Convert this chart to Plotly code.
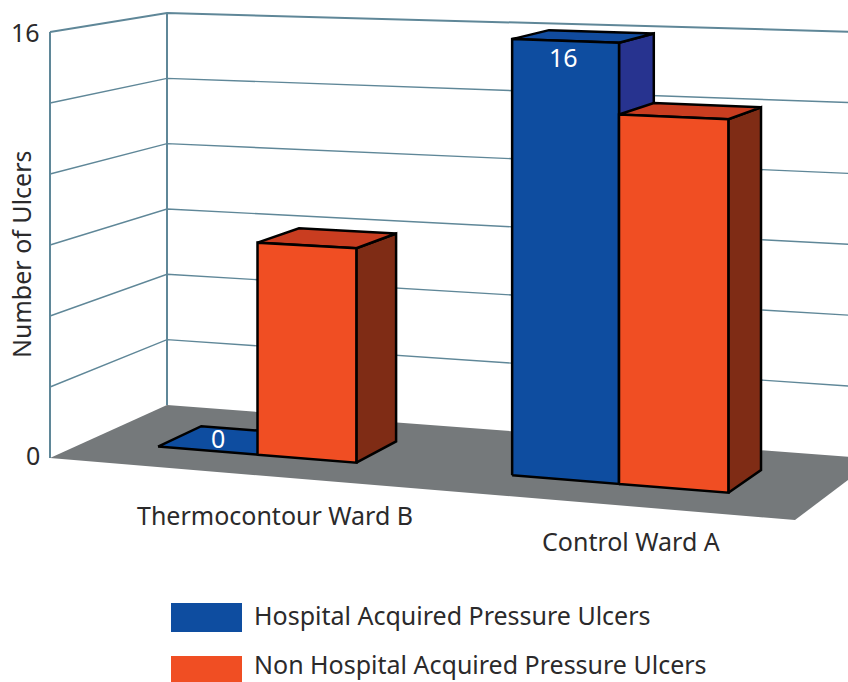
import numpy as np
import plotly.graph_objects as go

# ---- data ----
categories = ["Thermocontour Ward B", "Control Ward A"]
series_names = ["Hospital Acquired Pressure Ulcers", "Non Hospital Acquired Pressure Ulcers"]
hospital = [0, 16]
non_hospital = [8, 13.4]
bar_labels = ["0", "16"]
y_tick_labels = ["0", "16"]
y_title = "Number of Ulcers"

# ---- look of the chart ----
Y_MAX = 16
GRID_STEPS = 6
W, H = 848, 682
FONT = "Noto Sans"
FS = 25
TEXT = "#2b2a2b"
GRID = "#5f8798"
FLOOR = "#75797b"
BLUE = dict(front="#0e4da0", side="#27338f", top="#114b9e")
ORANGE = dict(front="#f04e23", side="#7f2c15", top="#c93d20")
GROUP_X = [(0.103, 0.246, 0.385), (0.598, 0.74, 0.882)]
LABEL_OFFSET = [(53, 43), (42, 38)]
D0, D1 = 0.31, 0.69

def homography(c):
    src = [(0, 0), (1, 0), (1, 1), (0, 1)]
    A, b = [], []
    for (x, y), (u, v) in zip(src, c):
        A.append([x, y, 1, 0, 0, 0, -u * x, -u * y]); b.append(u)
        A.append([0, 0, 0, x, y, 1, -v * x, -v * y]); b.append(v)
    return np.append(np.linalg.solve(np.array(A, float), np.array(b, float)), 1).reshape(3, 3)

HF = homography([(50, 458), (795, 520), (876, 459), (167, 405)])

def project(x, d, z):
    """3-D chart position (category axis, depth, value) to the picture plane."""
    p = HF @ np.array([x, d, 1.0])
    u, v = p[:2] / p[2]
    return u, v - (z / Y_MAX) * (426 + 34.6 * x - 34 * d)

fig = go.Figure()

def poly(points, fill=None, line=None, width=0):
    pts = [project(*p) for p in points]
    if fill:
        pts = pts + [pts[0]]
    fig.add_trace(go.Scatter(
        x=[p[0] for p in pts], y=[p[1] for p in pts],
        mode="lines", fill="toself" if fill else "none", fillcolor=fill,
        line=dict(color=line if line else "rgba(0,0,0,0)", width=width),
        hoverinfo="skip", showlegend=False))

# walls: gridlines
for i in range(1, GRID_STEPS):
    z = Y_MAX * i / GRID_STEPS
    poly([(0, 0, z), (0, 1, z), (1, 1, z)], line=GRID, width=1.4)
poly([(0, 0, Y_MAX), (0, 1, Y_MAX), (1, 1, Y_MAX)], line=GRID, width=2)
poly([(0, 0, 0), (0, 0, Y_MAX)], line=GRID, width=2)
poly([(0, 1, 0), (0, 1, Y_MAX)], line=GRID, width=2)

# floor
poly([(0, 0, 0), (1, 0, 0), (1, 1, 0), (0, 1, 0)], fill=FLOOR)

def bar(x0, x1, v, col):
    edge = dict(line="#000000", width=2.5)
    if v > 0:
        poly([(x1, D0, 0), (x1, D1, 0), (x1, D1, v), (x1, D0, v)], fill=col["side"], **edge)
        poly([(x0, D0, v), (x1, D0, v), (x1, D1, v), (x0, D1, v)], fill=col["top"], **edge)
        poly([(x0, D0, 0), (x1, D0, 0), (x1, D0, v), (x0, D0, v)], fill=col["front"], **edge)
    else:
        poly([(x0, D0, v), (x1, D0, v), (x1, D1, v), (x0, D1, v)], fill=col["front"], **edge)

for (xa, xb, xc), a, b in zip(GROUP_X, hospital, non_hospital):
    bar(xa, xb, a, BLUE)
    bar(xb, xc, b, ORANGE)

def text(x, y, s, size=FS, color=TEXT, xanchor="center", angle=0):
    fig.add_annotation(x=x, y=y, text=s, showarrow=False, xref="x", yref="y", xanchor=xanchor,
                       yanchor="middle", textangle=angle, font=dict(family=FONT, size=size, color=color))

# value labels on the bars
for (xa, xb, xc), a, lab in zip(GROUP_X, hospital, bar_labels):
    u = project((xa + xb) / 2, D0, a)[0]
    v = project((xa + xb) / 2, 0.5, 0)[1] - 2 if a == 0 else project((xa + xb) / 2, D0, a)[1] + 17
    text(u + (10 if a == 0 else -2), v - (0 if a == 0 else 1), lab, color="#ffffff")

# axis labels
for lab, z in zip(y_tick_labels, (0, Y_MAX)):
    u, v = project(0, 0, z)
    text(u - 8, v - (3 if z == 0 else 0), lab, xanchor="right")
text(21, 255, y_title, angle=-90)
for (xa, xb, xc), cat, (dx, dy) in zip(GROUP_X, categories, LABEL_OFFSET):
    u, v = project(xb, 0, 0)
    text(u + dx, v + dy, cat)

# legend
shapes = []
for name, col, y0, y1, yc in zip(series_names, (BLUE, ORANGE), (603, 656), (632, 685), (615, 664)):
    shapes.append(dict(type="rect", xref="x", yref="y", x0=171, x1=242, y0=y0, y1=y1,
                       fillcolor=col["front"], line_width=0))
    text(252, yc, name, xanchor="left")

fig.update_layout(
    width=W, height=H, margin=dict(l=0, r=0, t=0, b=0),
    paper_bgcolor="#ffffff", plot_bgcolor="#ffffff", showlegend=False, shapes=shapes,
    xaxis=dict(range=[0, W], visible=False, fixedrange=True),
    yaxis=dict(range=[H, 0], visible=False, fixedrange=True),
)
fig.write_html("out.html", config=dict(displayModeBar=False),
               post_script="document.body.style.margin='0';document.body.style.overflow='hidden';")
